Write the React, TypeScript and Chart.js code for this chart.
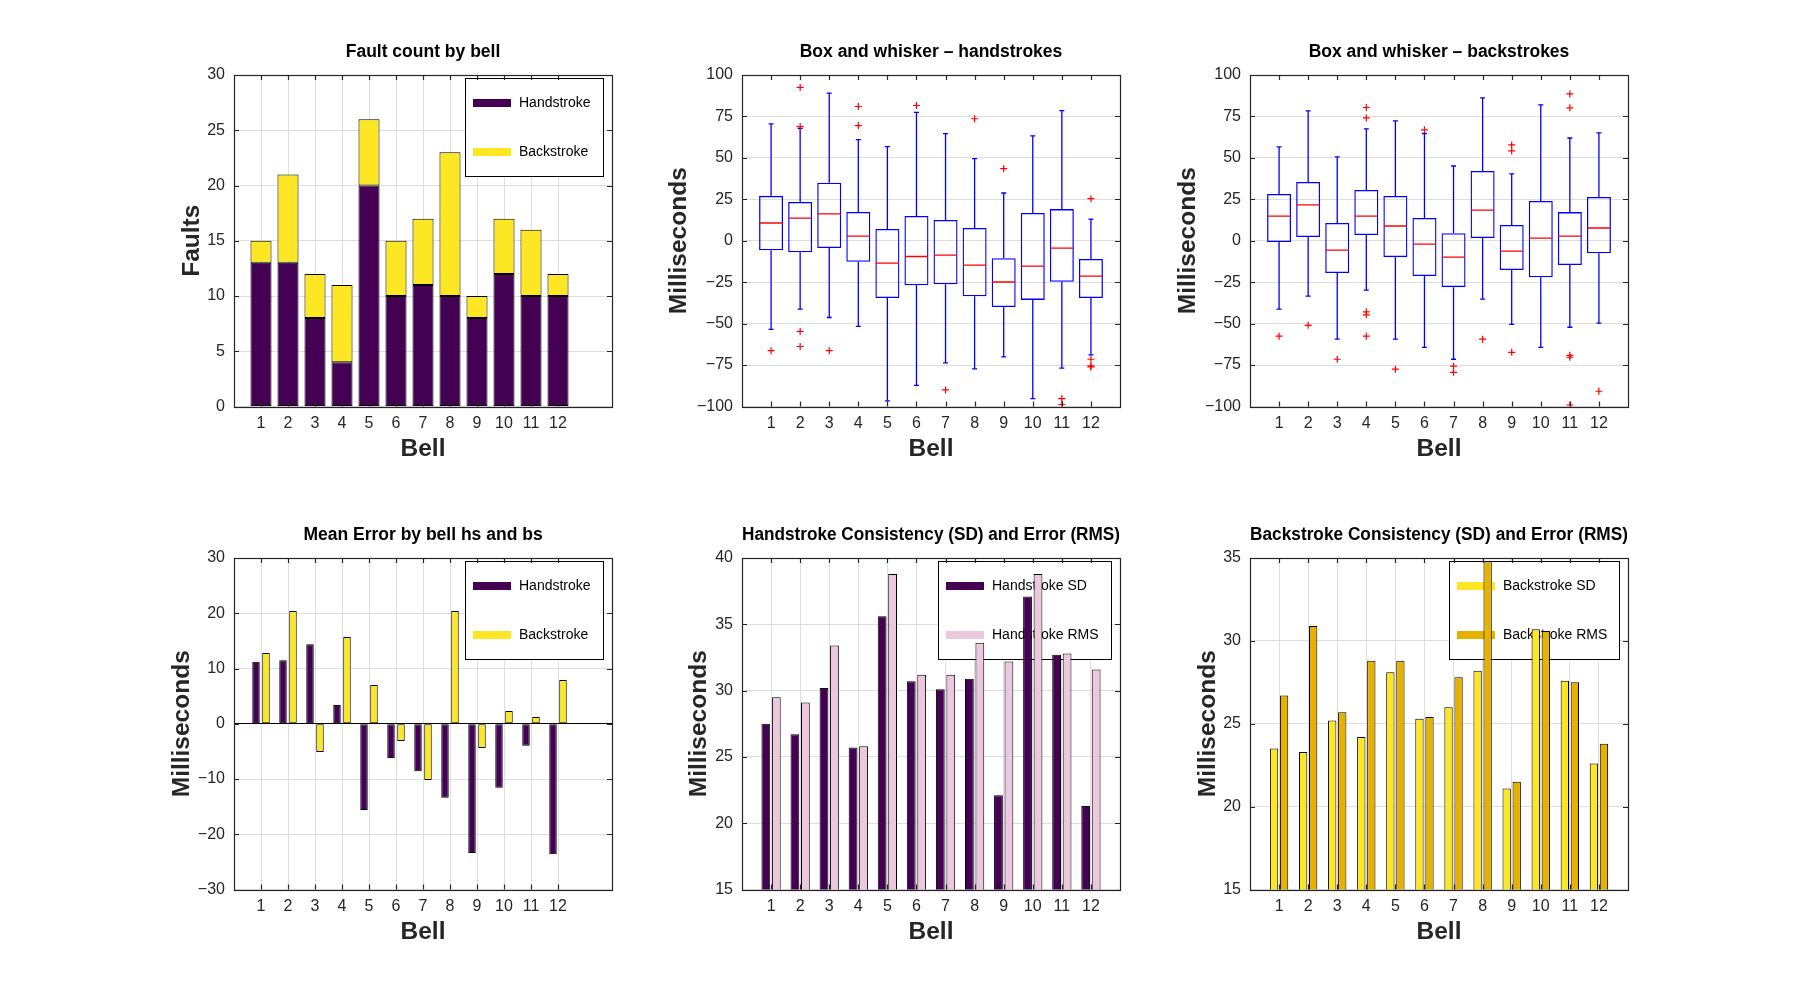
import React, { useEffect, useRef } from 'react';
import { Chart, registerables } from 'chart.js';

Chart.register(...registerables);

const FONT = '"Liberation Sans", Arial, Helvetica, sans-serif';
Chart.defaults.font.family = FONT;

// ---------- data ----------
const bells = [1, 2, 3, 4, 5, 6, 7, 8, 9, 10, 11, 12];

const faultHand = [13, 13, 8, 4, 20, 10, 11, 10, 8, 12, 10, 10];
const faultBack = [2, 8, 4, 7, 6, 5, 6, 13, 2, 5, 6, 2];
const faultTicks = [0, 5, 10, 15, 20, 25, 30];

// handstroke box plot statistics
const hsLo = [-53.5, -41.2, -46.3, -51.7, -96.6, -87.3, -73.7, -77.3, -70.1, -95.2, -76.8, -68.9];
const hsQ1 = [-5.7, -6.9, -4.4, -12.7, -34.5, -26.9, -26.3, -33.5, -40.0, -35.7, -24.8, -34.5];
const hsMed = [10.7, 13.7, 16.2, 2.8, -13.5, -9.5, -8.7, -14.7, -24.9, -15.3, -4.4, -21.3];
const hsQ3 = [27.1, 23.4, 35.0, 17.4, 7.1, 15.0, 12.5, 7.7, -10.6, 16.8, 19.1, -11.0];
const hsHi = [70.5, 67.8, 89.1, 61.0, 56.8, 77.4, 64.6, 49.5, 28.8, 63.3, 78.5, 13.1];
const hsOut: [number, number][] = [
  [1, -66.3], [2, 92.5], [2, 68.9], [2, -54.7], [2, -63.8], [3, -66.3], [4, 81.0], [4, 69.5],
  [6, 81.6], [7, -90.0], [8, 73.6], [9, 43.5], [11, -95.2], [11, -98.8], [12, 25.4],
  [12, -71.5], [12, -75.5], [12, -76.1],
];

// backstroke box plot statistics
const bsLo = [-41.3, -33.4, -59.4, -29.8, -59.4, -64.3, -71.5, -35.2, -50.4, -64.3, -52.2, -49.7];
const bsQ1 = [-0.8, 2.2, -19.5, 3.4, -9.9, -21.3, -28.0, 1.6, -17.7, -22.0, -14.7, -7.5];
const bsMed = [14.9, 21.6, -5.6, 14.9, 8.9, -2.0, -9.9, 18.5, -6.2, 1.6, 2.8, 7.7];
const bsQ3 = [28.2, 35.4, 10.7, 30.6, 27.0, 13.7, 4.6, 42.1, 9.5, 24.0, 17.3, 26.4];
const bsHi = [56.6, 78.3, 50.6, 67.5, 72.3, 64.7, 45.1, 86.2, 40.3, 82.0, 62.0, 65.1];
const bsOut: [number, number][] = [
  [1, -57.6], [2, -51.0], [3, -71.5], [4, 80.4], [4, 74.1], [4, -42.9], [4, -44.7], [4, -57.6],
  [5, -77.5], [6, 66.9], [7, -75.7], [7, -79.4], [8, -59.4], [9, 57.8], [9, 54.2], [9, -67.3],
  [11, 88.6], [11, 80.2], [11, -69.1], [11, -70.3], [11, -99.1], [12, -90.8],
];
const boxTicks = [-100, -75, -50, -25, 0, 25, 50, 75, 100];

const meanHand = [11.2, 11.5, 14.4, 3.4, -15.6, -6.2, -8.6, -13.4, -23.4, -11.6, -4.0, -23.6];
const meanBack = [12.8, 20.4, -5.1, 15.7, 7.0, -3.1, -10.2, 20.4, -4.4, 2.3, 1.2, 7.9];
const meanTicks = [-30, -20, -10, 0, 10, 20, 30];

const hsSD = [27.5, 26.7, 30.2, 25.7, 35.6, 30.7, 30.1, 30.9, 22.1, 37.1, 32.7, 21.3];
const hsRMS = [29.5, 29.1, 33.4, 25.8, 38.8, 31.2, 31.2, 33.6, 32.2, 38.8, 32.8, 31.6];
const hsTicks = [15, 20, 25, 30, 35, 40];

const bsSD = [23.5, 23.3, 25.2, 24.2, 28.1, 25.3, 26.0, 28.2, 21.1, 30.7, 27.6, 22.6];
const bsRMS = [26.7, 30.9, 25.7, 28.8, 28.8, 25.4, 27.8, 34.8, 21.5, 30.6, 27.5, 23.8];
const bsTicks = [15, 20, 25, 30, 35];

// ---------- styles ----------
const PURPLE = '#440154';
const YELLOW = '#fde725';
const PINK = '#ebc8de';
const GOLD = '#e6b100';
const BLUE = '#0000ff';
const RED = '#ff0000';
const GRID = '#dedede';
const AXIS = '#262626';

const fmt = (v: number) => (v < 0 ? '\u2212' + Math.abs(v) : String(v));

// ---------- plugins ----------
const boxLegend = {
  id: 'boxLegend',
  beforeDatasetsDraw(chart: any, _args: any, opts: any) {
    if (!opts || !opts.datasets) return;
    const { ctx, chartArea } = chart;
    const items = opts.datasets.map((i: number) => chart.data.datasets[i]);
    ctx.save();
    ctx.font = '14px ' + FONT;
    const tw = Math.max(...items.map((d: any) => ctx.measureText(d.label).width));
    const w = 8 + 38 + 8 + tw + 12;
    const h = 98;
    const x = Math.round(chartArea.right - 9 - w);
    const y = Math.round(chartArea.top + 3);
    ctx.fillStyle = '#ffffff';
    ctx.fillRect(x, y, w, h);
    ctx.strokeStyle = '#000000';
    ctx.lineWidth = 1;
    ctx.strokeRect(x + 0.5, y + 0.5, Math.round(w), h);
    items.forEach((d: any, i: number) => {
      const cy = y + 25 + i * 49;
      ctx.fillStyle = d.backgroundColor;
      ctx.fillRect(x + 8, cy - 4, 38, 8);
      ctx.fillStyle = '#000000';
      ctx.textAlign = 'left';
      ctx.textBaseline = 'middle';
      ctx.fillText(d.label, x + 54, cy);
    });
    ctx.restore();
  },
};

const frameTicks = {
  id: 'frameTicks',
  afterDatasetsDraw(chart: any) {
    const { ctx, chartArea: a, scales } = chart;
    const xs = scales.x;
    const ys = scales.y;
    ctx.save();
    ctx.strokeStyle = AXIS;
    ctx.lineWidth = 1.2;
    ctx.beginPath();
    xs.ticks.forEach((t: any) => {
      const p = Math.round(xs.getPixelForValue(t.value)) + 0.5;
      ctx.moveTo(p, a.bottom);
      ctx.lineTo(p, a.bottom - 5);
      ctx.moveTo(p, a.top);
      ctx.lineTo(p, a.top + 5);
    });
    ys.ticks.forEach((t: any) => {
      const p = Math.round(ys.getPixelForValue(t.value)) + 0.5;
      ctx.moveTo(a.left, p);
      ctx.lineTo(a.left + 5, p);
      ctx.moveTo(a.right, p);
      ctx.lineTo(a.right - 5, p);
    });
    ctx.stroke();
    ctx.strokeRect(Math.round(a.left) + 0.5, Math.round(a.top) + 0.5, Math.round(a.right - a.left), Math.round(a.bottom - a.top));
    ctx.restore();
  },
};

// ---------- option builder ----------
type Opt = {
  title: string;
  yTitle: string;
  yTitlePad: number;
  xMax: number;
  yMin: number;
  yMax: number;
  yTicks: number[];
  xGrid: boolean;
  stacked?: boolean;
  zeroLine?: boolean;
  legend?: number[];
};

function makeOptions(o: Opt): any {
  return {
    responsive: false,
    animation: false,
    events: [],
    layout: { padding: { left: 0, right: 20, top: 0, bottom: 0 } },
    plugins: {
      legend: { display: false },
      tooltip: { enabled: false },
      title: {
        display: true,
        text: o.title,
        fullSize: false,
        color: '#000000',
        font: { family: FONT, size: 17.5, weight: 'bold' },
        padding: { top: 41.5, bottom: 12.5 },
      },
      boxLegend: o.legend ? { datasets: o.legend } : {},
    },
    scales: {
      x: {
        type: 'linear',
        min: 0,
        max: o.xMax,
        offset: false,
        stacked: !!o.stacked,
        afterBuildTicks: (axis: any) => {
          axis.ticks = bells.map((v) => ({ value: v }));
        },
        afterFit: (s: any) => {
          s.height = 76.5;
        },
        grid: { display: o.xGrid, offset: false, color: GRID, lineWidth: 1, drawTicks: false },
        border: { display: false },
        ticks: {
          padding: 7,
          color: AXIS,
          autoSkip: false,
          maxRotation: 0,
          font: { family: FONT, size: 16 },
          callback: (v: number) => fmt(v),
        },
        title: {
          display: true,
          text: 'Bell',
          color: AXIS,
          font: { family: FONT, size: 24.5, weight: 'bold' },
          padding: { top: 0, bottom: 19 },
        },
      },
      y: {
        type: 'linear',
        min: o.yMin,
        max: o.yMax,
        stacked: !!o.stacked,
        afterBuildTicks: (axis: any) => {
          axis.ticks = o.yTicks.map((v) => ({ value: v }));
        },
        afterFit: (s: any) => {
          s.width = 110;
        },
        grid: {
          color: (c: any) => (o.zeroLine && c.tick && c.tick.value === 0 ? '#000000' : GRID),
          lineWidth: 1,
          drawTicks: false,
        },
        border: { display: false },
        ticks: {
          padding: 9,
          color: AXIS,
          font: { family: FONT, size: 16 },
          callback: (v: number) => fmt(v),
        },
        title: {
          display: true,
          text: o.yTitle,
          color: AXIS,
          font: { family: FONT, size: 24.5, weight: 'bold' },
          padding: { top: o.yTitlePad, bottom: 0 },
        },
      },
    },
  };
}

const pts = (vals: number[]) => bells.map((b, i) => ({ x: b, y: vals[i] }));

function boxDatasets(lo: number[], q1: number[], med: number[], q3: number[], hi: number[], out: [number, number][]) {
  return [
    {
      type: 'scatter',
      label: 'outliers',
      data: out.map(([b, v]) => ({ x: b, y: v })),
      pointStyle: 'cross',
      pointRadius: 3.5,
      pointHoverRadius: 3.5,
      borderColor: RED,
      borderWidth: 1.2,
    },
    {
      type: 'scatter',
      label: 'median',
      data: pts(med),
      pointStyle: 'line',
      pointRadius: 11.5,
      pointHoverRadius: 11.5,
      borderColor: RED,
      borderWidth: 1.3,
    },
    {
      type: 'scatter',
      label: 'caps',
      data: [...pts(hi), ...pts(lo)],
      pointStyle: 'line',
      pointRadius: 2.5,
      pointHoverRadius: 2.5,
      borderColor: BLUE,
      borderWidth: 1.3,
    },
    {
      type: 'bar',
      label: 'box',
      data: bells.map((b, i) => ({ x: b, y: [q1[i], q3[i]] })),
      backgroundColor: 'rgba(0,0,0,0)',
      borderColor: BLUE,
      borderWidth: 1.3,
      borderSkipped: false,
      barThickness: 24,
      grouped: false,
      inflateAmount: 0,
    },
    {
      type: 'bar',
      label: 'upper whisker',
      data: bells.map((b, i) => ({ x: b, y: [q3[i], hi[i]] })),
      backgroundColor: BLUE,
      borderWidth: 0,
      barThickness: 1.3,
      grouped: false,
      inflateAmount: 0,
    },
    {
      type: 'bar',
      label: 'lower whisker',
      data: bells.map((b, i) => ({ x: b, y: [lo[i], q1[i]] })),
      backgroundColor: BLUE,
      borderWidth: 0,
      barThickness: 1.3,
      grouped: false,
      inflateAmount: 0,
    },
  ];
}

function barSet(label: string, vals: number[], color: string) {
  return {
    type: 'bar',
    label,
    data: pts(vals),
    backgroundColor: color,
    borderColor: '#000000',
    borderWidth: 1,
    borderSkipped: false,
  };
}

// ---------- chart configs ----------
const configs: { left: number; top: number; make: () => any }[] = [
  {
    left: 124,
    top: 0,
    make: () => ({
      type: 'bar',
      data: {
        datasets: [
          { ...barSet('Handstroke', faultHand, PURPLE), barPercentage: 0.78, categoryPercentage: 1 },
          { ...barSet('Backstroke', faultBack, YELLOW), barPercentage: 0.78, categoryPercentage: 1 },
        ],
      },
      options: makeOptions({
        title: 'Fault count by bell',
        yTitle: 'Faults',
        yTitlePad: 53.3,
        xMax: 14,
        yMin: 0,
        yMax: 30,
        yTicks: faultTicks,
        xGrid: true,
        stacked: true,
        legend: [0, 1],
      }),
      plugins: [boxLegend, frameTicks],
    }),
  },
  {
    left: 632,
    top: 0,
    make: () => ({
      type: 'bar',
      data: { datasets: boxDatasets(hsLo, hsQ1, hsMed, hsQ3, hsHi, hsOut) },
      options: makeOptions({
        title: 'Box and whisker \u2013 handstrokes',
        yTitle: 'Milliseconds',
        yTitlePad: 33,
        xMax: 13,
        yMin: -100,
        yMax: 100,
        yTicks: boxTicks,
        xGrid: false,
      }),
      plugins: [frameTicks],
    }),
  },
  {
    left: 1140,
    top: 0,
    make: () => ({
      type: 'bar',
      data: { datasets: boxDatasets(bsLo, bsQ1, bsMed, bsQ3, bsHi, bsOut) },
      options: makeOptions({
        title: 'Box and whisker \u2013 backstrokes',
        yTitle: 'Milliseconds',
        yTitlePad: 33.6,
        xMax: 13,
        yMin: -100,
        yMax: 100,
        yTicks: boxTicks,
        xGrid: false,
      }),
      plugins: [frameTicks],
    }),
  },
  {
    left: 124,
    top: 483,
    make: () => ({
      type: 'bar',
      data: {
        datasets: [
          { ...barSet('Handstroke', meanHand, PURPLE), barPercentage: 0.75, categoryPercentage: 0.74 },
          { ...barSet('Backstroke', meanBack, YELLOW), barPercentage: 0.75, categoryPercentage: 0.74 },
        ],
      },
      options: makeOptions({
        title: 'Mean Error by bell hs and bs',
        yTitle: 'Milliseconds',
        yTitlePad: 43.6,
        xMax: 14,
        yMin: -30,
        yMax: 30,
        yTicks: meanTicks,
        xGrid: true,
        zeroLine: true,
        legend: [0, 1],
      }),
      plugins: [boxLegend, frameTicks],
    }),
  },
  {
    left: 632,
    top: 483,
    make: () => ({
      type: 'bar',
      data: {
        datasets: [
          { ...barSet('Handstroke SD', hsSD, PURPLE), barPercentage: 0.84, categoryPercentage: 0.72 },
          { ...barSet('Handstroke RMS', hsRMS, PINK), barPercentage: 0.84, categoryPercentage: 0.72 },
        ],
      },
      options: makeOptions({
        title: 'Handstroke Consistency (SD) and Error (RMS)',
        yTitle: 'Milliseconds',
        yTitlePad: 53,
        xMax: 13,
        yMin: 15,
        yMax: 40,
        yTicks: hsTicks,
        xGrid: true,
        legend: [0, 1],
      }),
      plugins: [boxLegend, frameTicks],
    }),
  },
  {
    left: 1140,
    top: 483,
    make: () => ({
      type: 'bar',
      data: {
        datasets: [
          { ...barSet('Backstroke SD', bsSD, YELLOW), barPercentage: 0.83, categoryPercentage: 0.69 },
          { ...barSet('Backstroke RMS', bsRMS, GOLD), barPercentage: 0.83, categoryPercentage: 0.69 },
        ],
      },
      options: makeOptions({
        title: 'Backstroke Consistency (SD) and Error (RMS)',
        yTitle: 'Milliseconds',
        yTitlePad: 53.6,
        xMax: 13,
        yMin: 15,
        yMax: 35,
        yTicks: bsTicks,
        xGrid: true,
        legend: [0, 1],
      }),
      plugins: [boxLegend, frameTicks],
    }),
  },
];

function ChartCanvas({ left, top, make }: { left: number; top: number; make: () => any }) {
  const ref = useRef<HTMLCanvasElement | null>(null);
  useEffect(() => {
    if (!ref.current) return;
    const chart = new Chart(ref.current, make());
    return () => chart.destroy();
  }, []);
  return (
    <canvas
      ref={ref}
      width={508}
      height={483}
      style={{ position: 'absolute', left, top, width: 508, height: 483 }}
    />
  );
}

export default function App() {
  return (
    <div
      style={{
        position: 'absolute',
        left: 0,
        top: 0,
        width: 1800,
        height: 1000,
        background: '#ffffff',
        overflow: 'hidden',
      }}
    >
      {configs.map((c, i) => (
        <ChartCanvas key={i} left={c.left} top={c.top} make={c.make} />
      ))}
    </div>
  );
}
